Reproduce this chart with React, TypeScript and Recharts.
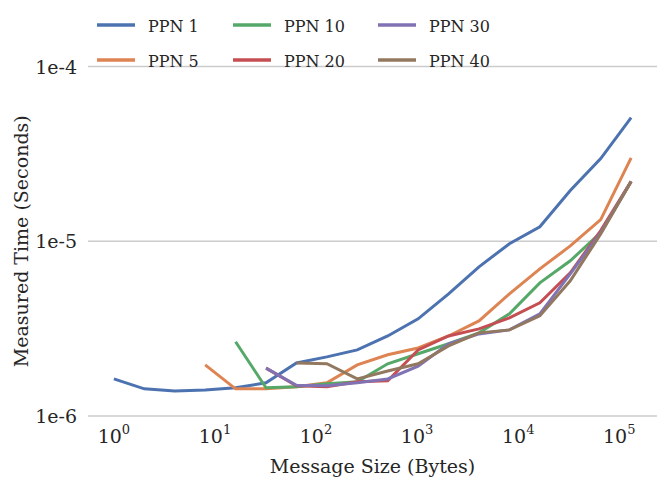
import { LineChart, Line, XAxis, YAxis, CartesianGrid } from 'recharts';

// message sizes in bytes (powers of two)
const sizes = [1, 2, 4, 8, 16, 32, 64, 128, 256, 512, 1024, 2048, 4096, 8192, 16384, 32768, 65536, 131072];

// measured times (seconds), each series starts at its own message size
const ppn1 = [1.63e-6, 1.43e-6, 1.39e-6, 1.41e-6, 1.45e-6, 1.55e-6, 2.01e-6, 2.18e-6, 2.39e-6, 2.87e-6, 3.6e-6, 5.0e-6, 7.14e-6, 9.68e-6, 1.21e-5, 1.95e-5, 2.97e-5, 5.1e-5];
const ppn5 = [1.96e-6, 1.43e-6, 1.43e-6, 1.47e-6, 1.55e-6, 1.96e-6, 2.24e-6, 2.45e-6, 2.87e-6, 3.5e-6, 5.0e-6, 6.95e-6, 9.4e-6, 1.33e-5, 3.0e-5];
const ppn10 = [2.66e-6, 1.45e-6, 1.47e-6, 1.53e-6, 1.57e-6, 1.99e-6, 2.27e-6, 2.59e-6, 2.99e-6, 3.84e-6, 5.78e-6, 7.73e-6, 1.12e-5, 2.2e-5];
const ppn20 = [1.88e-6, 1.49e-6, 1.47e-6, 1.57e-6, 1.59e-6, 2.39e-6, 2.87e-6, 3.15e-6, 3.64e-6, 4.44e-6, 6.6e-6, 1.15e-5, 2.2e-5];
const ppn30 = [1.88e-6, 1.5e-6, 1.49e-6, 1.55e-6, 1.63e-6, 1.93e-6, 2.59e-6, 2.95e-6, 3.11e-6, 3.84e-6, 6.5e-6, 1.12e-5, 2.2e-5];
const ppn40 = [2.01e-6, 1.99e-6, 1.63e-6, 1.81e-6, 1.99e-6, 2.52e-6, 2.99e-6, 3.11e-6, 3.74e-6, 5.94e-6, 1.1e-5, 2.2e-5];

const xTicks = [1, 10, 100, 1000, 10000, 100000];
const xTickExp = ['0', '1', '2', '3', '4', '5'];
const yTicks = [1e-6, 1e-5, 1e-4];
const yTickLabels = ['1e-6', '1e-5', '1e-4'];

const FONT = "'DejaVu Serif', serif";
const TEXT = '#262626';
const textStyle = { fontFamily: FONT, fill: TEXT };

const seriesDefs = [
  { name: 'PPN 1', values: ppn1, color: '#4c72b0' },
  { name: 'PPN 5', values: ppn5, color: '#dd8452' },
  { name: 'PPN 10', values: ppn10, color: '#55a868' },
  { name: 'PPN 20', values: ppn20, color: '#c44e52' },
  { name: 'PPN 30', values: ppn30, color: '#8172b3' },
  { name: 'PPN 40', values: ppn40, color: '#937860' },
];

// align each series to the tail of the sizes list
const series = seriesDefs.map((s) => {
  const offset = sizes.length - s.values.length;
  return {
    ...s,
    data: s.values.map((t, i) => ({ size: sizes[offset + i], t })),
  };
});

const XTick = (props: any) => {
  const { x, y, payload } = props;
  const idx = xTicks.indexOf(payload.value);
  return (
    <text x={x} y={y + 27} textAnchor="middle" fontSize={19} style={textStyle}>
      <tspan>10</tspan>
      <tspan dy={-9} fontSize={13}>{xTickExp[idx]}</tspan>
    </text>
  );
};

const YTick = (props: any) => {
  const { x, y, payload } = props;
  const idx = yTicks.indexOf(payload.value);
  return (
    <text x={x} y={y + 7} textAnchor="end" fontSize={19} style={textStyle}>
      {yTickLabels[idx]}
    </text>
  );
};

const XLabel = (props: any) => {
  const { viewBox } = props;
  return (
    <text x={viewBox.x + viewBox.width / 2} y={473} textAnchor="middle" fontSize={19} style={textStyle}>
      Message Size (Bytes)
    </text>
  );
};

const YLabel = (props: any) => {
  const { viewBox } = props;
  const cy = viewBox.y + viewBox.height / 2;
  return (
    <text x={28} y={cy} transform={`rotate(-90 28 ${cy})`} textAnchor="middle" fontSize={19} style={textStyle}>
      Measured Time (Seconds)
    </text>
  );
};

// legend: column-major, two rows
const legendCols = [97, 233, 378];
const legendRows = [25, 60];

function ChartLegend() {
  return (
    <svg width={664} height={80} style={{ position: 'absolute', left: 0, top: 0, pointerEvents: 'none' }}>
      {series.map((s, i) => {
        const cx = legendCols[Math.floor(i / 2)];
        const cy = legendRows[i % 2];
        return (
          <g key={s.name}>
            <line x1={cx} x2={cx + 38} y1={cy} y2={cy} stroke={s.color} strokeWidth={3.5} />
            <text x={cx + 51} y={cy + 7} fontSize={16} style={textStyle}>
              {s.name}
            </text>
          </g>
        );
      })}
    </svg>
  );
}

export default function App() {
  return (
    <div style={{ position: 'absolute', left: 0, top: 0, width: 664, height: 485, background: '#fff' }}>
      <LineChart width={664} height={485} margin={{ top: 66.5, right: 7, bottom: 0, left: 0 }}>
        <CartesianGrid vertical={false} stroke="#cccccc" strokeWidth={1.3} />
        <XAxis
          dataKey="size"
          type="number"
          scale="log"
          domain={[0.5546, 236300]}
          allowDataOverflow
          ticks={xTicks}
          tick={<XTick />}
          axisLine={false}
          tickLine={false}
          tickSize={0}
          tickMargin={0}
          height={69}
          label={<XLabel />}
        />
        <YAxis
          type="number"
          scale="log"
          domain={[1e-6, 1e-4]}
          allowDataOverflow
          ticks={yTicks}
          tick={<YTick />}
          axisLine={false}
          tickLine={false}
          tickSize={0}
          tickMargin={11}
          width={88}
          label={<YLabel />}
        />
        {series.map((s) => (
          <Line
            key={s.name}
            data={s.data}
            dataKey="t"
            name={s.name}
            type="linear"
            stroke={s.color}
            strokeWidth={3}
            dot={false}
            activeDot={false}
            isAnimationActive={false}
          />
        ))}
      </LineChart>
      <ChartLegend />
    </div>
  );
}
